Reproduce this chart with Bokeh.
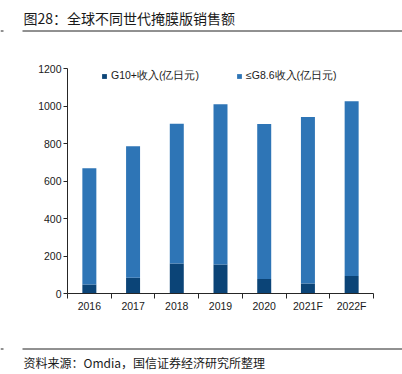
import numpy as np
from bokeh.plotting import figure
from bokeh.layouts import column
from bokeh.models import Range1d, FixedTicker, Legend, LegendItem
from bokeh.core.properties import value
from bokeh.embed import file_html
from bokeh.resources import INLINE

years = ["2016", "2017", "2018", "2019", "2020", "2021F", "2022F"]
g10 = [48, 84, 160, 155, 77, 53, 94]
le86 = [620, 702, 745, 854, 827, 888, 931]
y_ticks = [0, 200, 400, 600, 800, 1000, 1200]
series_names = ["G10+收入(亿日元)", "≤G8.6收入(亿日元)"]
title_text = "图28：全球不同世代掩膜版销售额"
source_text = "资料来源：Omdia，国信证券经济研究所整理"
colors = ["#0B4477", "#2E75B6"]

W = 402
RULE = "#222222"
TXT = "#1a1a1a"


def text_panel(h):
    f = figure(width=W, height=h, output_backend="svg", toolbar_location=None,
               x_range=Range1d(0, W), y_range=Range1d(h, 0),
               x_axis_type=None, y_axis_type=None, frame_align=False,
               min_border=0, min_border_left=0, min_border_right=0,
               min_border_top=0, min_border_bottom=0)
    f.outline_line_color = None
    f.xgrid.visible = False
    f.ygrid.visible = False
    return f


# header
top = text_panel(36)
top.text(x=[23], y=[17], text=[title_text], text_baseline="middle",
         text_font=value("Noto Sans CJK SC"), text_font_size="14px", text_color=TXT)
top.segment(x0=[22, 0], y0=[30.5, 30.5], x1=[W, 3], y1=[30.5, 30.5],
            line_color=RULE, line_width=1)

# main chart
x = list(np.arange(len(years)) + 0.5)
src = dict(x=x, g10=g10, le86=le86)

p = figure(width=W, height=304, output_backend="svg", toolbar_location=None,
           x_range=Range1d(0, len(years)), y_range=Range1d(0, 1200), frame_align=False,
           min_border_left=67, min_border_right=29, min_border_top=32, min_border_bottom=47)
p.outline_line_color = None
p.xgrid.visible = False
p.ygrid.visible = False

rs = p.vbar_stack(["g10", "le86"], x="x", width=0.32, source=src, color=colors, line_color=None)

p.yaxis.ticker = FixedTicker(ticks=y_ticks)
p.yaxis.major_tick_out = 4
p.yaxis.major_tick_in = 0
p.yaxis.minor_tick_out = 0
p.yaxis.major_label_standoff = 2
p.yaxis.axis_line_color = "#262626"
p.yaxis.major_tick_line_color = "#262626"
p.yaxis.major_label_text_font = "Liberation Sans"
p.yaxis.major_label_text_font_size = "10.5px"
p.yaxis.major_label_text_color = TXT

p.xaxis.ticker = FixedTicker(ticks=x, minor_ticks=list(range(len(years) + 1)))
p.xaxis.major_label_overrides = {float(v): y for v, y in zip(x, years)}
p.xaxis.major_tick_out = 0
p.xaxis.major_tick_in = 0
p.xaxis.minor_tick_out = 5
p.xaxis.minor_tick_in = 0
p.xaxis.minor_tick_line_color = "#262626"
p.xaxis.axis_line_color = "#262626"
p.xaxis.major_label_standoff = 1
p.xaxis.major_label_text_font = "Liberation Sans"
p.xaxis.major_label_text_font_size = "10.5px"
p.xaxis.major_label_text_color = TXT

for r, name, lx in zip(rs, series_names, [34, 169]):
    lg = Legend(items=[LegendItem(label=name, renderers=[r])], location=(lx, 210),
                orientation="horizontal", padding=0, margin=0, spacing=0,
                glyph_width=6, glyph_height=6, label_standoff=4,
                border_line_color=None, background_fill_alpha=0,
                label_text_font="Liberation Sans", label_text_font_size="10.5px",
                label_text_color=TXT)
    p.add_layout(lg, "center")

# footer
bot = text_panel(34)
bot.segment(x0=[22, 0], y0=[8.5, 8.5], x1=[W, 3], y1=[8.5, 8.5],
            line_color=RULE, line_width=1)
bot.text(x=[23], y=[22], text=[source_text], text_baseline="middle",
         text_font=value("Noto Sans CJK SC"), text_font_size="12px", text_color=TXT)

layout = column(top, p, bot, spacing=0)
open("out.html", "w").write(file_html(layout, INLINE))
